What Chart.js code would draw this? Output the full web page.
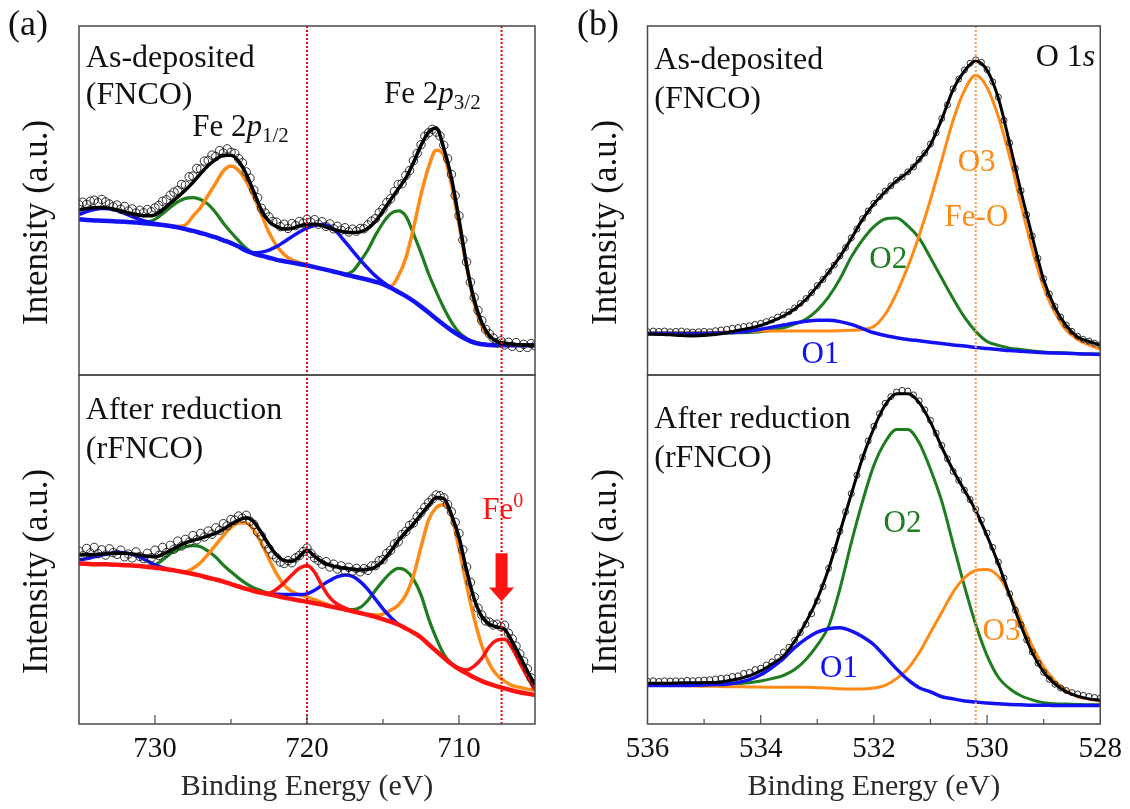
<!DOCTYPE html>
<html>
<head>
<meta charset="utf-8">
<script src="https://cdn.jsdelivr.net/npm/chart.js@4.4.0/dist/chart.umd.min.js"></script>
<style>
html, body { margin: 0; padding: 0; background: #fff; }
#wrap { position: relative; width: 1130px; height: 809px; overflow: hidden; }
.col { position: absolute; top: 0; width: 565px; height: 809px; }
.tag { position: absolute; top: 5px; font-size: 36px; line-height: 36px; color: #111;
  font-family: "Liberation Serif", "DejaVu Serif", "Noto Serif", serif; }
</style>
</head>
<body>
<div id="wrap">
  <div class="col" style="left:0"><canvas id="fe" width="565" height="809"></canvas></div>
  <div class="col" style="left:565px"><canvas id="ox" width="565" height="809"></canvas></div>
  <div class="tag" style="left:8px">(a)</div>
  <div class="tag" style="left:577px">(b)</div>
</div>
<script>
// ---- Fe 2p (panel a) ----
const feE = [735,734.5,734,733.5,733,732.5,732,731.5,731,730.5,730,729.5,729,728.5,728,727.5,727,726.5,726,725.5,
  725,724.5,724,723.5,723,722.5,722,721.5,721,720.5,720,719.5,719,718.5,718,717.5,717,716.5,716,715.5,
  715,714.5,714,713.5,713,712.5,712,711.5,711,710.5,710,709.5,709,708.5,708,707.5,707,706.5,706,705.5,705];
const feEc = [735,734.75,734.5,734.25,734,733.75,733.5,733.25,733,732.75,732.5,732.25,732,731.75,731.5,731.25,731,730.75,730.5,730.25,
  730,729.75,729.5,729.25,729,728.75,728.5,728.25,728,727.75,727.5,727.25,727,726.75,726.5,726.25,726,725.75,725.5,725.25,
  725,724.75,724.5,724.25,724,723.75,723.5,723.25,723,722.75,722.5,722.25,722,721.75,721.5,721.25,721,720.75,720.5,720.25,
  720,719.75,719.5,719.25,719,718.75,718.5,718.25,718,717.75,717.5,717.25,717,716.75,716.5,716.25,716,715.75,715.5,715.25,
  715,714.75,714.5,714.25,714,713.75,713.5,713.25,713,712.75,712.5,712.25,712,711.75,711.5,711.25,711,710.75,710.5,710.25,
  710,709.75,709.5,709.25,709,708.75,708.5,708.25,708,707.75,707.5,707.25,707,706.75,706.5,706.25,706,705.75,705.5,705.25,705];
const _ = null;

// as-deposited
const feDepRaw = [48.8,49.5,48.9,49.8,50.1,49.4,50.3,49.6,49.0,48.2,48.7,47.5,48.3,47.0,47.6,46.4,47.2,46.5,47.4,46.8,
  47.9,48.6,49.8,50.2,51.5,52.4,52.9,54.6,54.4,56.8,57.0,59.2,59.0,61.3,61.5,63.0,62.6,64.3,63.6,64.8,
  63.8,63.5,62.0,60.8,58.2,56.4,53.0,50.8,47.8,46.4,45.3,44.0,43.8,42.5,43.2,42.0,43.4,42.8,44.0,43.5,
  44.6,43.8,44.5,43.2,43.9,42.6,43.3,41.9,42.6,41.5,42.2,41.0,41.8,41.2,42.0,41.9,43.0,44.1,44.8,46.5,
  47.6,49.4,50.5,52.6,54.6,54.8,57.2,58.6,61.4,63.5,66.0,68.4,69.4,70.4,69.6,68.5,65.8,62.0,57.5,51.4,
  45.6,38.7,32.4,26.6,22.2,18.5,15.6,13.1,11.8,10.6,9.2,9.8,8.6,9.4,8.2,9.3,7.9,8.8,7.9,9.0,8.4];
const feDepFit = [47.3,47.7,47.9,48.0,47.8,47.3,46.7,46.2,45.8,45.6,45.9,47.3,49.2,51.0,53.0,55.2,57.7,60.0,61.8,63.0,
  63.0,61.3,57.6,52.5,47.3,44.0,42.5,41.8,42.0,42.7,43.1,43.2,42.8,42.0,41.4,41.0,40.8,41.0,42.0,44.0,
  47.0,50.2,53.3,56.4,60.8,65.8,69.6,70.8,65.0,56.5,44.6,31.5,21.5,15.0,11.3,9.6,9.0,8.8,8.6,8.6,8.5];
const feDepBg = [44.6,44.4,44.3,44.2,44.1,44.0,43.9,43.8,43.6,43.4,43.2,43.0,42.7,42.3,41.8,41.3,40.7,40.1,39.4,38.6,
  37.8,36.8,35.6,34.8,34.2,33.6,33.0,32.6,32.2,31.8,31.4,30.9,30.4,29.9,29.4,28.8,28.3,27.8,27.3,26.7,
  26.0,25.0,23.8,22.6,21.2,19.6,17.9,16.1,14.4,12.8,11.4,10.2,9.3,8.8,8.6,8.5,8.5,8.5,8.5,8.5,8.5];
const feDepBlue = [46.0,46.8,47.4,47.7,47.6,47.1,46.3,45.4,44.6,43.9,43.4,43.0,42.7,_,_,_,_,_,_,_,
  _,36.8,35.6,35.0,35.2,35.8,36.8,38.2,39.6,41.0,42.1,42.8,43.1,42.6,40.8,38.2,35.6,33.0,30.6,28.4,
  26.6,25.1,23.8,_,_,_,_,_,_,_,_,_,_,_,_,_,_,_,_,_,_];
const feDepGreen = [_,_,_,_,_,_,_,_,43.6,43.8,44.6,46.2,48.0,49.6,50.6,50.8,50.3,48.9,46.5,43.5,
  40.9,38.5,36.3,34.8,34.2,_,_,_,_,_,_,_,_,_,29.4,28.9,29.7,32.5,35.8,40.0,
  43.6,46.2,47.0,45.5,40.5,35.0,29.0,23.9,19.2,15.2,12.2,10.5,9.5,8.9,8.6,_,_,_,_,_,_];
const feDepOrange = [_,_,_,_,_,_,_,_,_,_,_,_,42.7,42.6,43.0,45.5,48.0,51.5,55.0,58.5,
  59.9,58.6,55.5,51.0,46.0,40.8,37.0,34.5,33.0,32.2,31.6,31.0,_,_,_,_,_,_,_,_,
  26.0,25.4,28.3,33.5,42.0,51.7,59.6,64.4,63.0,54.6,43.1,31.1,20.5,14.0,11.0,9.6,9.0,8.7,8.6,8.5,8.5];

// after reduction
const feRedRaw = [49.5,48.2,50.3,49.0,50.6,48.8,49.9,48.4,50.2,49.1,48.6,49.8,47.9,48.7,47.6,49.3,48.0,47.4,48.9,47.6,
  49.8,48.3,50.6,49.1,51.2,50.1,52.4,51.0,52.9,52.1,54.0,52.8,54.6,53.6,55.3,54.4,56.2,55.5,57.4,56.8,
  58.6,58.4,59.6,59.0,59.8,58.1,57.2,55.0,53.9,51.6,50.2,48.5,47.6,46.4,46.0,46.8,46.2,47.6,48.3,49.4,
  50.4,48.9,47.6,46.9,45.8,46.5,45.0,45.8,44.4,45.3,44.0,44.9,43.8,44.6,43.6,44.5,44.0,45.3,45.4,46.8,
  47.1,48.9,49.8,51.6,52.2,54.3,55.2,56.9,57.6,59.4,60.6,62.1,63.4,64.5,65.6,65.4,64.8,62.9,60.8,57.8,
  54.6,49.9,45.0,40.6,36.4,33.2,31.2,29.5,29.2,28.4,28.6,27.9,28.3,26.0,24.4,22.3,20.1,18.0,15.8,13.2,11.6];
const feRedFit = [48.4,48.5,48.6,48.7,48.8,48.9,48.9,48.7,48.4,48.1,47.9,48.6,49.7,50.9,51.9,52.6,53.2,53.9,54.7,55.8,
  57.2,58.4,59.1,57.9,54.8,51.3,48.4,46.8,46.6,48.0,49.8,48.0,46.4,45.5,45.0,44.6,44.3,44.1,44.3,45.0,
  46.8,49.5,52.5,55.0,57.3,60.0,62.6,64.9,64.6,60.0,53.5,44.0,35.8,30.8,28.6,27.8,27.1,23.6,19.5,15.2,11.2];
const feRedBg = [46.0,45.9,45.8,45.8,45.7,45.6,45.5,45.4,45.3,45.0,44.8,44.5,44.2,43.8,43.4,43.0,42.5,41.9,41.4,40.8,
  40.1,39.4,38.7,38.1,37.6,37.2,36.7,36.2,35.8,35.4,35.0,34.6,34.2,33.7,33.3,32.8,32.3,31.8,31.3,30.7,
  30.0,29.3,28.5,27.4,26.2,24.8,22.8,20.9,19.0,17.2,15.7,14.5,13.3,12.3,11.5,10.8,10.2,9.6,9.1,8.7,8.3];
const feRedBlue = [47.0,47.4,47.9,48.4,48.9,49.2,49.1,48.6,47.8,46.7,45.6,44.8,44.2,_,_,_,_,_,_,_,
  _,_,_,_,37.6,37.3,37.2,37.1,37.1,37.1,37.3,38.3,39.8,41.1,42.2,42.7,42.3,40.8,38.6,35.8,
  33.0,30.6,28.5,_,_,_,_,_,_,_,_,_,_,_,_,_,_,_,_,_,_];
const feRedGreen = [_,_,_,_,_,_,_,_,_,45.2,45.6,47.0,48.8,50.0,50.8,51.1,50.8,49.5,47.8,45.5,
  43.6,41.8,40.2,39.0,38.2,37.4,36.8,_,_,_,_,_,_,_,_,32.8,32.8,33.4,35.4,38.3,
  41.0,43.3,44.6,44.0,41.5,37.0,30.2,24.6,20.0,17.3,15.8,_,_,_,_,_,_,_,_,_,_];
const feRedOrange = [_,_,_,_,_,_,_,_,_,_,_,_,_,43.8,43.6,44.6,46.3,48.7,51.3,54.0,
  56.3,57.6,57.6,55.5,51.8,47.3,43.0,39.8,38.0,37.0,36.4,35.6,34.8,34.0,_,_,_,_,31.3,31.2,
  31.5,32.6,34.0,37.0,42.5,50.7,58.5,62.0,62.9,59.6,50.3,39.8,30.2,22.5,17.2,14.0,12.3,11.0,10.5,10.0,9.7];
const feRedFe0 = [_,_,_,_,_,_,_,_,_,_,_,_,_,_,_,_,_,_,_,_,
  _,_,_,_,37.6,37.5,38.6,40.5,42.7,44.6,45.4,43.5,39.5,36.2,34.3,33.2,32.4,_,_,_,
  _,_,_,_,_,_,_,_,_,17.2,16.0,15.5,16.6,18.8,22.2,24.0,24.3,21.7,17.5,13.5,9.7];

const feMarks = [720, 707.2];

// ---- O 1s (panel b) ----
const oE = [536,535.8,535.6,535.4,535.2,535,534.8,534.6,534.4,534.2,534,533.8,533.6,533.4,533.2,533,532.8,532.6,532.4,532.2,
  532,531.8,531.6,531.4,531.2,531,530.8,530.6,530.4,530.2,530,529.8,529.6,529.4,529.2,529,528.8,528.6,528.4,528.2,528];
const oEc = [536,535.9,535.8,535.7,535.6,535.5,535.4,535.3,535.2,535.1,535,534.9,534.8,534.7,534.6,534.5,534.4,534.3,534.2,534.1,
  534,533.9,533.8,533.7,533.6,533.5,533.4,533.3,533.2,533.1,533,532.9,532.8,532.7,532.6,532.5,532.4,532.3,532.2,532.1,
  532,531.9,531.8,531.7,531.6,531.5,531.4,531.3,531.2,531.1,531,530.9,530.8,530.7,530.6,530.5,530.4,530.3,530.2,530.1,
  530,529.9,529.8,529.7,529.6,529.5,529.4,529.3,529.2,529.1,529,528.9,528.8,528.7,528.6,528.5,528.4,528.3,528.2,528.1,528];

const oDepRaw = [12.4,12.6,12.5,12.6,12.4,12.5,12.6,12.4,12.3,12.4,12.5,12.4,12.7,12.9,13.1,13.4,13.6,13.9,14.1,14.5,
  14.8,15.3,15.8,16.6,17.2,18.1,19.2,20.5,21.9,23.6,25.6,27.4,29.6,31.5,34.1,36.5,39.3,41.8,44.8,47.0,
  49.2,51.1,52.7,54.2,55.8,56.7,58.2,59.6,61.8,63.6,66.2,69.4,73.5,77.4,82.0,84.8,87.4,89.3,90.3,89.6,
  87.5,84.0,79.6,73.0,66.5,59.2,52.8,45.9,39.8,33.4,27.6,23.2,19.6,16.6,14.3,12.5,11.1,10.2,9.7,9.1,8.7];
const oDepFit = [11.7,11.6,11.5,11.3,11.2,11.3,11.6,12.1,12.8,13.4,14.2,15.4,16.9,18.9,21.7,25.4,29.4,33.9,39.1,44.6,
  49.0,52.5,55.6,58.1,61.6,66.0,73.3,81.8,87.1,90.0,87.3,79.3,66.3,52.5,39.6,27.3,19.3,14.1,10.9,9.6,8.6];
const oDepO1 = [11.9,11.9,11.9,11.9,11.9,11.9,12.0,12.1,12.3,12.6,13.1,13.7,14.3,14.9,15.4,15.7,15.7,15.3,14.5,13.3,
  12.1,11.3,10.7,10.2,9.8,9.4,9.0,8.6,8.3,7.9,7.6,7.3,7.0,6.8,6.6,6.4,6.3,6.2,6.1,6.0,5.9];
const oDepO2 = [12.0,12.0,12.0,12.0,12.0,12.0,12.0,12.0,12.1,12.2,12.4,12.8,13.5,14.6,16.0,18.6,22.4,27.5,33.8,38.7,
  42.5,44.7,45.0,42.7,39.2,33.6,27.7,21.9,16.6,12.5,9.6,8.5,7.7,7.3,6.9,6.6,6.4,6.3,6.1,6.0,6.0];
const oDepO3 = [12.0,12.0,12.0,12.0,12.1,12.1,12.2,12.3,12.4,12.5,12.6,12.6,12.6,12.6,12.6,12.6,12.6,12.7,12.8,13.0,
  13.9,17.4,23.4,31.0,40.0,50.2,61.6,73.0,81.5,85.9,82.4,74.0,62.5,48.8,35.9,25.1,17.9,12.8,10.2,8.6,7.4];

const oRedRaw = [12.3,12.4,12.2,12.4,12.3,12.4,12.3,12.5,12.4,12.5,12.6,12.7,12.9,13.1,13.2,13.6,13.8,14.5,14.8,15.6,
  16.0,16.9,17.8,19.1,20.6,22.0,24.0,26.2,28.6,31.6,35.3,39.4,44.6,49.8,55.2,60.8,66.0,71.3,76.4,81.1,
  85.3,88.9,91.9,93.8,95.1,95.6,95.4,94.3,92.6,90.0,87.0,83.3,79.8,76.0,72.4,69.8,67.0,64.3,61.5,58.4,
  54.7,50.6,46.4,41.8,37.3,32.6,28.4,24.1,20.6,17.4,14.8,12.8,11.4,10.3,9.6,9.0,8.6,8.2,7.9,7.6,7.4];
const oRedFit = [11.7,11.7,11.7,11.8,11.8,11.9,11.9,12.3,12.9,13.8,15.2,17.2,19.4,23.7,29.2,35.8,44.4,55.0,65.8,76.2,
  84.8,91.4,94.6,94.6,92.1,86.5,79.3,72.7,67.0,61.1,53.9,45.9,36.8,28.1,20.4,14.9,11.5,9.2,8.0,7.2,6.8];
const oRedO1 = [11.0,11.0,11.0,11.0,11.1,11.2,11.3,11.4,11.9,12.7,14.1,16.2,18.7,21.9,24.4,26.3,27.3,27.6,26.7,25.0,
  22.7,19.3,15.8,12.7,10.4,9.2,7.8,7.2,6.6,6.3,6.0,5.8,5.6,5.5,5.4,5.4,5.3,5.3,5.3,5.3,5.3];
const oRedO2 = [11.2,11.2,11.2,11.2,11.2,11.3,11.4,11.5,11.6,11.8,12.3,13.0,13.9,15.6,18.5,22.6,28.0,38.7,51.9,63.8,
  74.1,80.8,84.4,84.4,80.6,73.0,63.8,51.6,39.5,28.5,19.6,13.4,10.1,8.1,6.9,6.1,5.8,5.7,5.6,5.5,5.5];
const oRedO3 = [11.2,11.1,11.0,11.0,10.9,10.8,10.8,10.7,10.7,10.6,10.6,10.5,10.5,10.5,10.5,10.4,10.3,10.1,10.0,10.0,
  10.3,11.1,13.0,15.8,20.4,26.2,32.0,37.8,41.9,44.0,44.3,42.3,37.0,29.8,22.2,16.4,12.3,9.6,7.8,7.1,6.5];

const oMarks = [530.2];

const BLUE = 'rgb(18,18,245)', GREEN = 'rgb(30,125,30)', ORANGE = 'rgb(255,138,22)', RED = 'rgb(255,18,18)';
const SERIF = '"Liberation Serif", "DejaVu Serif", "Noto Serif", serif';

function pts(es, vs) { return es.map((e, i) => ({x: e, y: vs[i]})); }

function line(es, vs, color, w, axis, order) {
  return { data: pts(es, vs), yAxisID: axis, order, borderColor: color, borderWidth: w,
    pointRadius: 0, fill: false, spanGaps: false, cubicInterpolationMode: 'monotone' };
}

function dots(es, vs, axis, r) {
  return { data: pts(es, vs), yAxisID: axis, order: 1, showLine: false, pointRadius: r,
    pointBackgroundColor: 'rgba(0,0,0,0)', pointBorderColor: '#1a1a1a', pointBorderWidth: 0.9 };
}

function drawLabel(ctx, chart, l) {
  let x = chart.scales.x.getPixelForValue(l.e);
  const y = chart.scales[l.axis].getPixelForValue(l.v);
  ctx.fillStyle = l.color || '#111';
  ctx.textAlign = 'left';
  ctx.textBaseline = 'alphabetic';
  l.parts.forEach(([t, st]) => {
    let size = l.size, dy = 0, style = '';
    if (st === 'i') style = 'italic ';
    if (st === 'sub') { size = Math.round(l.size * 0.68); dy = 6; }
    if (st === 'sup') { size = Math.round(l.size * 0.65); dy = -12; }
    ctx.font = style + size + 'px ' + SERIF;
    ctx.fillText(t, x, y + dy);
    x += ctx.measureText(t).width;
  });
}

function drawArrow(ctx, chart, a) {
  const x = chart.scales.x.getPixelForValue(a.e);
  const s = chart.scales[a.axis];
  const y1 = s.getPixelForValue(a.from), y2 = s.getPixelForValue(a.to);
  const head = 14, hw = 12.5, sw = 6;
  ctx.fillStyle = a.color;
  ctx.beginPath();
  ctx.moveTo(x - sw, y1); ctx.lineTo(x + sw, y1); ctx.lineTo(x + sw, y2 - head);
  ctx.lineTo(x + hw, y2 - head); ctx.lineTo(x, y2); ctx.lineTo(x - hw, y2 - head);
  ctx.lineTo(x - sw, y2 - head); ctx.closePath(); ctx.fill();
}

function decor(cfg) {
  return {
    id: 'decor',
    afterDatasetsDraw(chart) {
      const {ctx, chartArea: a, scales} = chart;
      const xs = scales.x;
      ctx.save();
      ctx.setLineDash([2, 2]);
      ctx.lineWidth = 2;
      ctx.strokeStyle = cfg.markColor;
      cfg.marks.forEach(e => {
        const px = xs.getPixelForValue(e);
        ctx.beginPath(); ctx.moveTo(px, a.top); ctx.lineTo(px, a.bottom); ctx.stroke();
      });
      ctx.setLineDash([]);
      cfg.labels.forEach(l => drawLabel(ctx, chart, l));
      (cfg.arrows || []).forEach(ar => drawArrow(ctx, chart, ar));
      ctx.strokeStyle = '#4a4a4a';
      ctx.lineWidth = 1.5;
      ['yTop', 'yBot'].forEach(id => {
        const s = scales[id];
        ctx.strokeRect(a.left, s.top, a.right - a.left, s.bottom - s.top);
      });
      ctx.lineWidth = 1.2;
      xs.ticks.forEach(t => {
        const px = xs.getPixelForValue(t.value);
        if (px < a.left + 2 || px > a.right - 2) return;
        const len = Math.abs(t.value % cfg.major) < 1e-6 ? 9 : 5;
        ctx.beginPath(); ctx.moveTo(px, a.bottom); ctx.lineTo(px, a.bottom - len); ctx.stroke();
      });
      ctx.restore();
    }
  };
}

function yAxis(w) {
  return {
    type: 'linear', position: 'left', stack: 'col', stackWeight: 1, weight: w, min: 0, max: 100,
    ticks: { display: false }, grid: { display: false }, border: { display: false },
    title: { display: true, text: 'Intensity (a.u.)' + '\u00a0'.repeat(5), color: '#111',
      font: { family: SERIF, size: 35 }, padding: { top: 17, bottom: 0 } },
    afterFit: s => { s.width = 79; }
  };
}

function panel(id, o) {
  return new Chart(document.getElementById(id), {
    type: 'line',
    data: { datasets: o.datasets },
    plugins: [decor(o.decor)],
    options: {
      responsive: false, animation: false, events: [],
      layout: { padding: o.padding },
      plugins: { legend: { display: false }, tooltip: { enabled: false } },
      scales: {
        x: {
          type: 'linear', reverse: true, min: o.min, max: o.max,
          ticks: { stepSize: o.step, autoSkip: false, maxRotation: 0, padding: 8, color: '#111',
            font: { family: SERIF, size: 29 },
            callback: v => (Math.abs(v % o.decor.major) < 1e-6 ? String(v) : '') },
          grid: { display: false, drawTicks: false }, border: { display: false },
          title: { display: true, text: 'Binding Energy (eV)', color: '#2a2a2a',
            font: { family: SERIF, size: 30 }, padding: { top: 0, bottom: 4 } },
          afterFit: s => { s.height = 85; }
        },
        yBot: yAxis(0),
        yTop: yAxis(1)
      }
    }
  });
}

panel('fe', {
  min: 705, max: 735, step: 5,
  padding: { left: 0, right: 30, top: 26, bottom: 0 },
  datasets: [
    line(feE, feDepFit, '#000', 3.5, 'yTop', 0),
    dots(feEc, feDepRaw, 'yTop', 4.2),
    line(feE, feDepBg, BLUE, 4.5, 'yTop', 2),
    line(feE, feDepBlue, BLUE, 3.5, 'yTop', 3),
    line(feE, feDepOrange, ORANGE, 3.5, 'yTop', 4),
    line(feE, feDepGreen, GREEN, 3.2, 'yTop', 5),
    line(feE, feRedFit, '#000', 3.5, 'yBot', 0),
    dots(feEc, feRedRaw, 'yBot', 4.2),
    line(feE, feRedBg, RED, 4.5, 'yBot', 2),
    line(feE, feRedFe0, RED, 3.5, 'yBot', 3),
    line(feE, feRedBlue, BLUE, 3.5, 'yBot', 4),
    line(feE, feRedOrange, ORANGE, 3.5, 'yBot', 5),
    line(feE, feRedGreen, GREEN, 3.2, 'yBot', 6)
  ],
  decor: {
    major: 10, marks: feMarks, markColor: 'rgb(255,0,0)',
    labels: [
      { axis: 'yTop', e: 734.55, v: 88.3, size: 32, parts: [['As-deposited']] },
      { axis: 'yTop', e: 734.55, v: 77.6, size: 32, parts: [['(FNCO)']] },
      { axis: 'yTop', e: 727.55, v: 68.5, size: 31, parts: [['Fe 2'], ['p', 'i'], ['1/2', 'sub']] },
      { axis: 'yTop', e: 714.93, v: 77.8, size: 31, parts: [['Fe 2'], ['p', 'i'], ['3/2', 'sub']] },
      { axis: 'yBot', e: 734.55, v: 87.3, size: 32, parts: [['After reduction']] },
      { axis: 'yBot', e: 734.55, v: 76.1, size: 32, parts: [['(rFNCO)']] },
      { axis: 'yBot', e: 708.47, v: 58.7, size: 31, color: RED, parts: [['Fe'], ['0', 'sup']] }
    ],
    arrows: [{ axis: 'yBot', e: 707.2, from: 48.9, to: 35.1, color: RED }]
  }
});

panel('ox', {
  min: 528, max: 536, step: 1,
  padding: { left: 3.5, right: 28.5, top: 26, bottom: 0 },
  datasets: [
    line(oE, oDepFit, '#000', 3, 'yTop', 0),
    dots(oEc, oDepRaw, 'yTop', 3),
    line(oE, oDepO1, BLUE, 3.5, 'yTop', 2),
    line(oE, oDepO3, ORANGE, 3, 'yTop', 3),
    line(oE, oDepO2, GREEN, 3, 'yTop', 4),
    line(oE, oRedFit, '#000', 3, 'yBot', 0),
    dots(oEc, oRedRaw, 'yBot', 3),
    line(oE, oRedO1, BLUE, 3.5, 'yBot', 2),
    line(oE, oRedO3, ORANGE, 3, 'yBot', 3),
    line(oE, oRedO2, GREEN, 3, 'yBot', 4)
  ],
  decor: {
    major: 2, marks: oMarks, markColor: 'rgb(255,150,70)',
    labels: [
      { axis: 'yTop', e: 535.88, v: 87.6, size: 32, parts: [['As-deposited']] },
      { axis: 'yTop', e: 535.88, v: 76.6, size: 32, parts: [['(FNCO)']] },
      { axis: 'yTop', e: 529.14, v: 88.5, size: 32, parts: [['O 1'], ['s', 'i']] },
      { axis: 'yTop', e: 530.52, v: 58.5, size: 31, color: ORANGE, parts: [['O3']] },
      { axis: 'yTop', e: 530.75, v: 42.7, size: 31, color: ORANGE, parts: [['Fe-O']] },
      { axis: 'yTop', e: 532.08, v: 30.7, size: 31, color: GREEN, parts: [['O2']] },
      { axis: 'yTop', e: 533.28, v: 3.3, size: 31, color: BLUE, parts: [['O1']] },
      { axis: 'yBot', e: 535.88, v: 84.8, size: 32, parts: [['After reduction']] },
      { axis: 'yBot', e: 535.88, v: 73.6, size: 32, parts: [['(rFNCO)']] },
      { axis: 'yBot', e: 531.83, v: 54.9, size: 31, color: GREEN, parts: [['O2']] },
      { axis: 'yBot', e: 530.08, v: 24.1, size: 31, color: ORANGE, parts: [['O3']] },
      { axis: 'yBot', e: 532.95, v: 13.6, size: 31, color: BLUE, parts: [['O1']] }
    ]
  }
});
</script>
</body>
</html>
